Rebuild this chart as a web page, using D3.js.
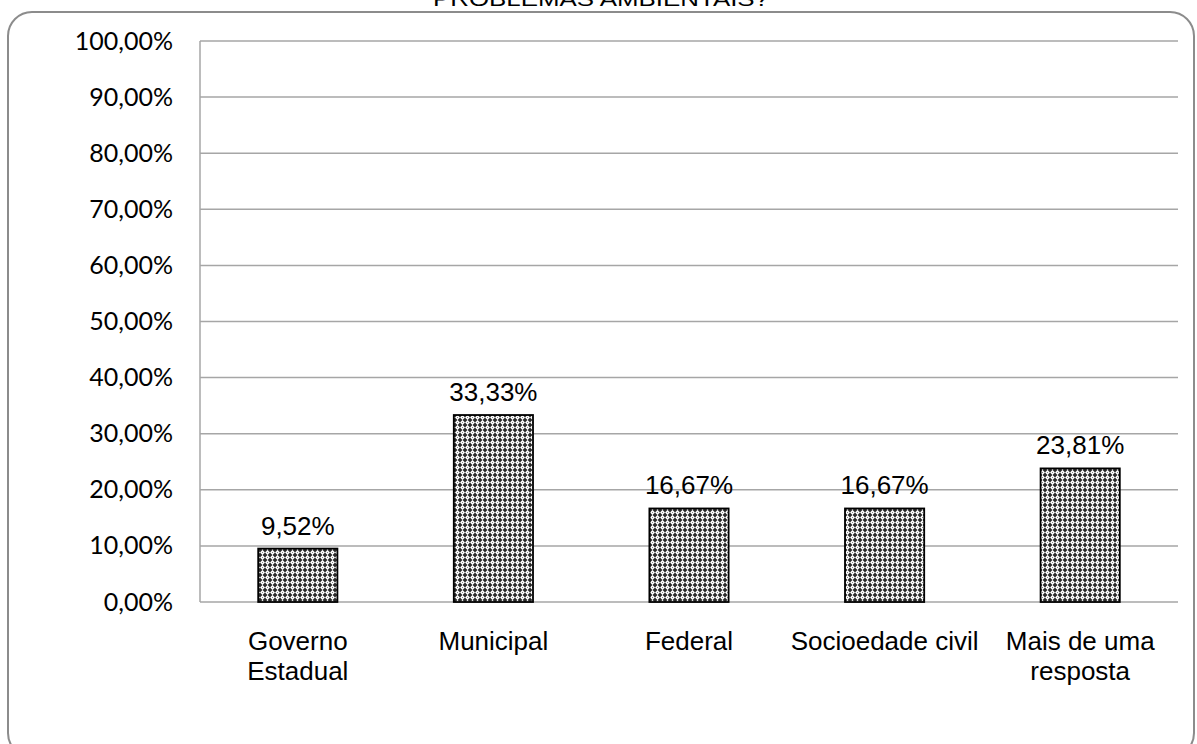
<!DOCTYPE html>
<html><head><meta charset="utf-8">
<script src="https://cdn.jsdelivr.net/npm/d3@7"></script>
<style>body{margin:0;background:#fff}svg{display:block}</style>
</head><body>
<svg id="c" width="1197" height="744"></svg>
<script>
const title = "PROBLEMAS AMBIENTAIS?";
const categories = [["Governo","Estadual"],["Municipal"],["Federal"],["Socioedade civil"],["Mais de uma","resposta"]];
const values = [9.52, 33.33, 16.67, 16.67, 23.81];
const tickValues = [0,10,20,30,40,50,60,70,80,90,100];
const fmt = v => d3.format(".2f")(v).replace(".", ",") + "%";

const svg = d3.select("#c");
const W = 1197, H = 744;
const m = {left:200, right:19, top:41, bottom:142};

// border
svg.append("rect").attr("x",8).attr("y",12).attr("width",1186).attr("height",745)
  .attr("rx",24).attr("fill","none").attr("stroke","#8c8c8c").attr("stroke-width",2);

// title (partially clipped at top, as in the reference)
svg.append("text").attr("x",601).attr("y",6).attr("text-anchor","middle")
  .attr("font-family","Liberation Sans, Arial").attr("font-size",20)
  .attr("textLength",336).attr("lengthAdjust","spacingAndGlyphs").text(title);

// pattern
const defs = svg.append("defs");
const pat = defs.append("pattern").attr("id","pt").attr("patternUnits","userSpaceOnUse")
  .attr("width",5).attr("height",5);
pat.append("rect").attr("width",5).attr("height",5).attr("fill","#2a2a2a");
pat.append("path").attr("d","M2.5,-0.1 L5.1,2.5 L2.5,5.1 L-0.1,2.5 Z").attr("fill","#fff");
pat.append("rect").attr("x",2).attr("y",2).attr("width",1).attr("height",1).attr("fill","#888");

const x = d3.scaleBand().domain(d3.range(values.length)).range([m.left, W - m.right]).paddingInner(0.595).paddingOuter(0.2975);
const y = d3.scaleLinear().domain([0,100]).range([H - m.bottom, m.top]);

// gridlines
svg.append("g").selectAll("line").data(tickValues).join("line")
  .attr("x1",m.left).attr("x2",W - m.right).attr("y1",d=>y(d)).attr("y2",d=>y(d))
  .attr("stroke","#a6a6a6").attr("stroke-width",1.5);
// y axis line
svg.append("line").attr("x1",m.left).attr("x2",m.left).attr("y1",y(100)).attr("y2",y(0))
  .attr("stroke","#a6a6a6").attr("stroke-width",1.5);

// y labels
const yAxis = d3.axisLeft(y).tickValues(tickValues).tickSize(0).tickPadding(27).tickFormat(fmt);
const ya = svg.append("g").attr("transform",`translate(${m.left},0)`).call(yAxis);
ya.select(".domain").remove();
ya.selectAll("text").attr("font-family","Lato, 'Open Sans', sans-serif").attr("font-size",25).attr("fill","#000");

// bars
svg.append("g").selectAll("rect").data(values).join("rect")
  .attr("x",(d,i)=>x(i)).attr("width",x.bandwidth())
  .attr("y",d=>y(d)).attr("height",d=>y(0)-y(d))
  .attr("fill","url(#pt)").attr("stroke","#000").attr("stroke-width",1.8);

// value labels
svg.append("g").selectAll("text").data(values).join("text")
  .attr("x",(d,i)=>x(i)+x.bandwidth()/2).attr("y",d=>y(d)-14)
  .attr("text-anchor","middle").attr("font-family","Liberation Sans, Arial").attr("font-size",26)
  .text(fmt);

// category labels
const cg = svg.append("g").selectAll("text").data(categories).join("text")
  .attr("text-anchor","middle").attr("font-family","Liberation Sans, Arial").attr("font-size",26)
  .attr("x",(d,i)=>x(i)+x.bandwidth()/2).attr("y",y(0)+48);
cg.selectAll("tspan").data(d=>d).join("tspan")
  .attr("x",function(){return this.parentNode.getAttribute("x");})
  .attr("dy",(d,i)=>i===0?0:30).text(d=>d);
</script>
</body></html>
